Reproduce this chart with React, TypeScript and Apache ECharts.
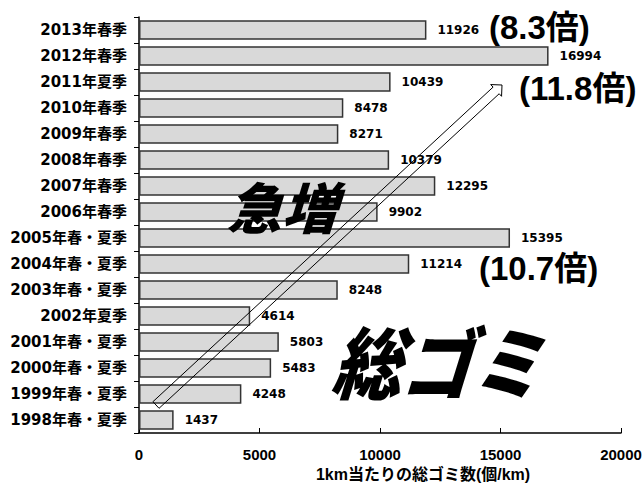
import React, { useEffect, useRef } from "react";
import * as echarts from "echarts";

// Survey periods, bottom to top
const categories: string[] = [
  "1998年春・夏季",
  "1999年春・夏季",
  "2000年春・夏季",
  "2001年春・夏季",
  "2002年夏季",
  "2003年春・夏季",
  "2004年春・夏季",
  "2005年春・夏季",
  "2006年春季",
  "2007年春季",
  "2008年春季",
  "2009年春季",
  "2010年春季",
  "2011年夏季",
  "2012年春季",
  "2013年春季",
];

// Total litter items per km of coastline
const totals: number[] = [
  1437, 4248, 5483, 5803, 4614, 8248, 11214, 15395, 9902, 12295, 10379, 8271,
  8478, 10439, 16994, 11926,
];

const xTicks = { min: 0, max: 20000, interval: 5000 };
const xAxisName = "1km当たりの総ゴミ数(個/km)";

// Callout texts
const ratioLabels = ["(8.3倍)", "(11.8倍)", "(10.7倍)"];
const surgeText = "急増";
const totalText = "総ゴミ";

const LABEL_FONT = '"DejaVu Sans", "Noto Sans CJK JP", sans-serif';
const TICK_FONT = '"Liberation Sans", Arial, "Noto Sans CJK JP", sans-serif';
const CJK_FONT = '"Noto Sans CJK JP", sans-serif';

// Hollow arrow outline from tail to tip
function arrowPoints(
  tail: [number, number],
  tip: [number, number],
  shaftHalf: number,
  headLen: number,
  headHalf: number
): number[][] {
  const dx = tip[0] - tail[0];
  const dy = tip[1] - tail[1];
  const len = Math.hypot(dx, dy);
  const ux = dx / len;
  const uy = dy / len;
  const nx = -uy;
  const ny = ux;
  const hx = tip[0] - ux * headLen;
  const hy = tip[1] - uy * headLen;
  return [
    [tail[0] - nx * shaftHalf, tail[1] - ny * shaftHalf],
    [hx - nx * shaftHalf, hy - ny * shaftHalf],
    [hx - nx * headHalf, hy - ny * headHalf],
    [tip[0], tip[1]],
    [hx + nx * headHalf, hy + ny * headHalf],
    [hx + nx * shaftHalf, hy + ny * shaftHalf],
    [tail[0] + nx * shaftHalf, tail[1] + ny * shaftHalf],
  ];
}

export default function App() {
  const ref = useRef<HTMLDivElement>(null);

  useEffect(() => {
    if (!ref.current) return;
    const chart = echarts.init(ref.current, undefined, { renderer: "svg" });

    const ratioText = (text: string, x: number, y: number) => ({
      type: "text",
      z: 60,
      x,
      y,
      style: {
        text,
        fill: "#000",
        font: `bold 33px ${TICK_FONT}`,
        align: "left",
        verticalAlign: "middle",
      },
    });

    const option: any = {
      animation: false,
      backgroundColor: "#ffffff",
      grid: {
        left: 139,
        right: 22,
        top: 17,
        bottom: 50,
        containLabel: false,
        outerBoundsMode: "none",
      },
      xAxis: {
        type: "value",
        min: xTicks.min,
        max: xTicks.max,
        interval: xTicks.interval,
        name: xAxisName,
        nameLocation: "middle",
        nameGap: 33,
        nameTextStyle: {
          color: "#000",
          fontFamily: TICK_FONT,
          fontWeight: "bold",
          fontSize: 16,
          padding: [0, 0, 0, 86],
        },
        splitLine: { show: false },
        axisLine: { show: true, lineStyle: { color: "#000", width: 1.5 } },
        axisTick: {
          show: true,
          inside: true,
          length: 5,
          lineStyle: { color: "#000", width: 1 },
        },
        axisLabel: {
          color: "#000",
          fontFamily: TICK_FONT,
          fontWeight: "bold",
          fontSize: 15,
          margin: 14,
          formatter: (v: number) => String(v),
        },
      },
      yAxis: {
        type: "category",
        data: categories,
        axisLine: { show: true, lineStyle: { color: "#000", width: 1.5 } },
        axisTick: {
          show: true,
          length: 5,
          alignWithLabel: false,
          lineStyle: { color: "#000", width: 1 },
        },
        axisLabel: {
          color: "#000",
          fontFamily: LABEL_FONT,
          fontWeight: "bold",
          fontSize: 15,
          margin: 12,
        },
        splitLine: { show: false },
      },
      series: [
        {
          type: "bar",
          data: totals,
          barCategoryGap: "25%",
          itemStyle: {
            color: "#d9d9d9",
            borderColor: "#333",
            borderWidth: 1.5,
          },
          label: {
            show: true,
            position: "right",
            distance: 11,
            color: "#000",
            fontFamily: LABEL_FONT,
            fontWeight: "bold",
            fontSize: 12,
          },
        },
      ],
      graphic: [
        {
          type: "polygon",
          z: 50,
          shape: { points: arrowPoints([156, 405], [502, 85], 4.5, 8, 8) },
          style: { fill: "none", stroke: "#000", lineWidth: 1 },
        },
        ratioText(ratioLabels[0], 489, 27),
        ratioText(ratioLabels[1], 519, 88),
        ratioText(ratioLabels[2], 479, 268),
        {
          type: "text",
          z: 60,
          x: 289,
          y: 205,
          skewX: -0.3,
          style: {
            text: surgeText,
            fill: "#000",
            fontFamily: CJK_FONT,
            fontWeight: 900,
            fontSize: 55,
            align: "center",
            verticalAlign: "middle",
          },
        },
        {
          type: "text",
          z: 60,
          x: 446,
          y: 359,
          skewX: -0.3,
          scaleY: 1.12,
          style: {
            text: totalText,
            fill: "#000",
            fontFamily: CJK_FONT,
            fontWeight: 900,
            fontSize: 70,
            align: "center",
            verticalAlign: "middle",
          },
        },
      ],
    };

    chart.setOption(option);
    return () => chart.dispose();
  }, []);

  return (
    <div
      ref={ref}
      style={{ position: "fixed", left: 0, top: 0, width: 643, height: 483 }}
    />
  );
}
